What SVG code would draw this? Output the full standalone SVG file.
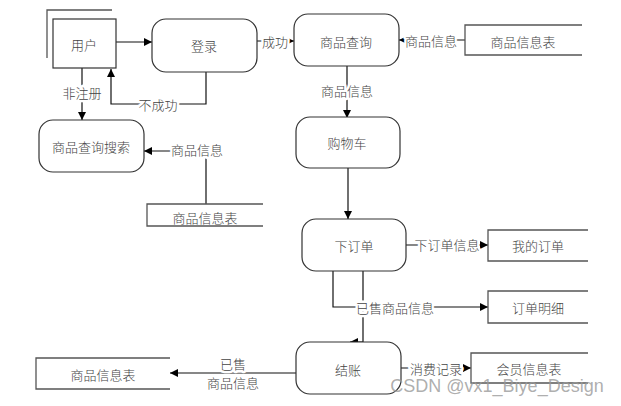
<svg xmlns="http://www.w3.org/2000/svg" width="621" height="406" viewBox="0 0 621 406">
<defs>
<marker id="ah" viewBox="0 0 10 10" refX="10" refY="5" markerWidth="8" markerHeight="8" markerUnits="userSpaceOnUse" orient="auto">
<path d="M0,0 L10,5 L0,10 z" fill="#000"/>
</marker>
<style>
.t{font-family:"Noto Sans CJK SC","Liberation Serif",sans-serif;font-size:13px;font-weight:300;fill:#444;text-anchor:middle;dominant-baseline:central}
.lbl{paint-order:stroke;stroke:#fff;stroke-width:5px;stroke-linejoin:round}
.proc{fill:#fff;stroke:#333;stroke-width:1.2}
.store{fill:none;stroke:#555;stroke-width:1.3}
.ln{fill:none;stroke:#111;stroke-width:1.2}
</style>
</defs>
<rect width="621" height="406" fill="#fff"/>
<g id="connectors">
<line class="ln" x1="116" y1="42" x2="152" y2="42" marker-end="url(#ah)"/>
<polyline class="ln" points="206,72 206,104 111,104 111,69" marker-end="url(#ah)"/>
<line class="ln" x1="82" y1="68" x2="82" y2="120" marker-end="url(#ah)"/>
<line class="ln" x1="257" y1="41" x2="294" y2="41" marker-end="url(#ah)"/>
<line class="ln" x1="465" y1="40" x2="399" y2="40" marker-end="url(#ah)"/>
<line class="ln" x1="347" y1="66" x2="347" y2="118" marker-end="url(#ah)"/>
<polyline class="ln" points="206,204 206,151 144,151" marker-end="url(#ah)"/>
<line class="ln" x1="348" y1="168" x2="348" y2="219" marker-end="url(#ah)"/>
<line class="ln" x1="406" y1="245" x2="488" y2="245" marker-end="url(#ah)"/>
<polyline class="ln" points="333,271 333,307 488,307" marker-end="url(#ah)"/>
<polyline class="ln" points="363,271 363,342 350,342" marker-end="url(#ah)"/>
<line class="ln" x1="401" y1="368" x2="471" y2="368" marker-end="url(#ah)"/>
<line class="ln" x1="296" y1="373" x2="170" y2="373" marker-end="url(#ah)"/>
<text class="t lbl" x="275" y="41">成功</text>
<text class="t lbl" x="431" y="40">商品信息</text>
<text class="t lbl" x="82" y="92">非注册</text>
<text class="t lbl" x="158" y="104">不成功</text>
<text class="t lbl" x="347" y="90">商品信息</text>
<text class="t lbl" x="197" y="149">商品信息</text>
<text class="t lbl" x="447" y="244">下订单信息</text>
<text class="t lbl" x="395" y="307">已售商品信息</text>
<text class="t lbl" x="436" y="368">消费记录</text>
<text class="t lbl" x="233" y="363">已售</text>
<text class="t lbl" x="233" y="382">商品信息</text>
</g>
<g id="user">
<polyline class="store" points="47,58 47,10 112,10"/>
<rect class="proc" x="53" y="19" width="63" height="49"/>
<text class="t" x="84" y="44">用户</text>
</g>
<g id="login">
<rect class="proc" x="152" y="19" width="105" height="53" rx="14"/>
<text class="t" x="204" y="45">登录</text>
</g>
<g id="query">
<rect class="proc" x="294" y="14" width="105" height="52" rx="14"/>
<text class="t" x="346" y="41">商品查询</text>
</g>
<g id="store-top">
<polyline class="store" points="582,25 465,25 465,55 582,55"/>
<text class="t" x="523" y="41">商品信息表</text>
</g>
<g id="search">
<rect class="proc" x="39" y="120" width="105" height="52" rx="14"/>
<text class="t" x="91" y="146">商品查询搜索</text>
</g>
<g id="store-left">
<polyline class="store" points="263,204 147,204 147,226 263,226"/>
<text class="t" x="205" y="217">商品信息表</text>
</g>
<g id="cart">
<rect class="proc" x="296" y="117" width="104" height="51" rx="14"/>
<text class="t" x="347" y="142">购物车</text>
</g>
<g id="order">
<rect class="proc" x="302" y="219" width="104" height="52" rx="14"/>
<text class="t" x="354" y="245">下订单</text>
</g>
<g id="myorder">
<polyline class="store" points="588,230 488,230 488,261 588,261"/>
<text class="t" x="538" y="245">我的订单</text>
</g>
<g id="detail">
<polyline class="store" points="588,291 488,291 488,323 588,323"/>
<text class="t" x="538" y="307">订单明细</text>
</g>
<g id="checkout">
<rect class="proc" x="296" y="342" width="105" height="52" rx="14"/>
<text class="t" x="348" y="369">结账</text>
</g>
<g id="member">
<polyline class="store" points="588,353 471,353 471,383 588,383"/>
<text class="t" x="529" y="368">会员信息表</text>
</g>
<g id="store-bottom">
<polyline class="store" points="170,358 36,358 36,389 170,389"/>
<text class="t" x="103" y="374">商品信息表</text>
</g>
<text x="497" y="386" style="font-family:'Liberation Sans',sans-serif;font-size:18px;fill:#999;fill-opacity:0.8;text-anchor:middle;dominant-baseline:central">CSDN @vx1_Biye_Design</text>
</svg>
